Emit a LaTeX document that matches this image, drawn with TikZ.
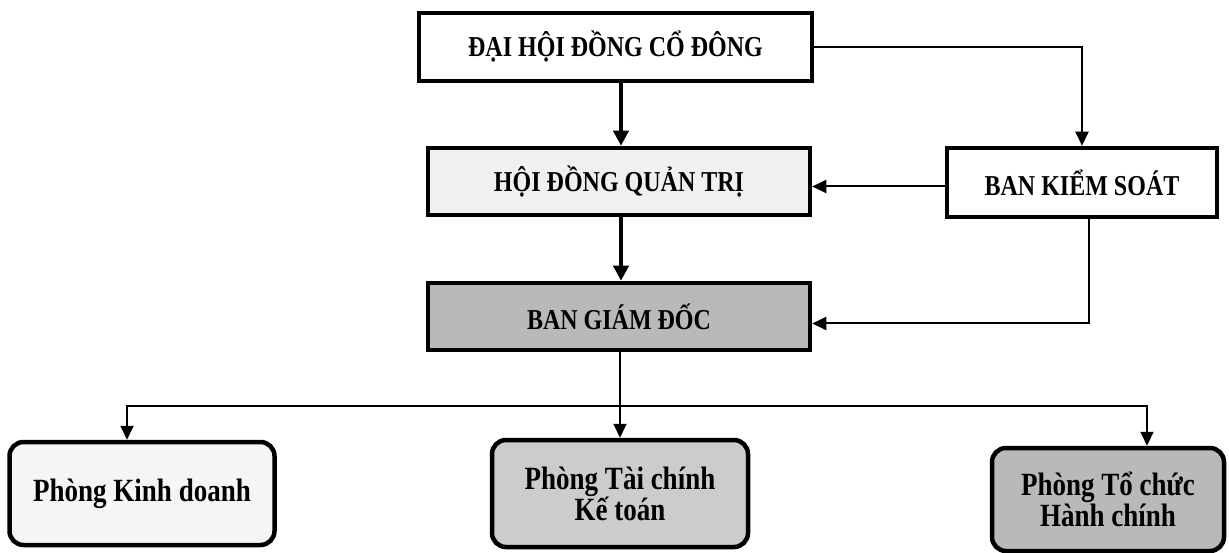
\documentclass[tikz,border=0pt]{standalone}
\usepackage{fontspec}
\usepackage{graphicx}
\setmainfont{Liberation Serif}
\usetikzlibrary{arrows.meta}
\newcommand{\vst}[1]{\scalebox{1}[1.2]{#1}}
\begin{document}
\begin{tikzpicture}[x=1pt,y=-1pt,
  box/.style={draw, line width=4.5pt, inner sep=0pt, align=center,
    font=\fontsize{24}{28}\selectfont\bfseries},
  rbox/.style={box, rounded corners=14pt,
    font=\fontsize{27}{31}\selectfont\bfseries},
  conn/.style={line width=2pt, -{Triangle[length=14pt,width=13pt]}},
  thickconn/.style={line width=4.5pt, -{Triangle[length=15pt,width=15pt]}}]
\useasboundingbox[fill=white] (0,0) rectangle (1229,553);
\node[box, minimum width=393pt, minimum height=68pt] (dh) at (615.5,47) {\vst{ĐẠI HỘI ĐỒNG CỔ ĐÔNG}};
\node[box, fill=gray!12, minimum width=382pt, minimum height=67pt] (hd) at (619,181.5) {\vst{HỘI ĐỒNG QUẢN TRỊ}};
\node[box, minimum width=270pt, minimum height=69pt] (bks) at (1082,182.5) {\vst{BAN KIỂM SOÁT}};
\node[box, fill=gray!55, minimum width=382pt, minimum height=67pt] (bgd) at (619,316.5) {\vst{BAN GIÁM ĐỐC}};
\node[rbox, fill=gray!8, minimum width=265pt, minimum height=103pt] (kd) at (142,493.5) {\vst{Phòng Kinh doanh}};
\node[rbox, fill=gray!40, minimum width=256pt, minimum height=107pt] (tc) at (620,493.5) {\vst{Phòng Tài chính}\\\vst{Kế toán}};
\node[rbox, fill=gray!55, minimum width=232pt, minimum height=103pt] (hc) at (1108,499.5) {\vst{Phòng Tổ chức}\\\vst{Hành chính}};
\coordinate (ax) at (621,0);
\coordinate (hl) at (0,406);
\draw[thickconn] (dh.south -| ax) -- (hd.north -| ax);
\draw[thickconn] (hd.south -| ax) -- (bgd.north -| ax);
\draw[conn] (dh.east) -| (bks.north);
\draw[conn] ([yshift=-4pt]bks.west) -- ([yshift=-4pt]bks.west -| hd.east);
\draw[conn] ([xshift=7pt]bks.south) |- ([yshift=-7pt]bgd.east);
\draw[conn] (bgd.south -| tc.north) -- (tc.north);
\draw[conn] (hl -| tc.north) -| ([xshift=-15pt]kd.north);
\draw[conn] (hl -| tc.north) -| ([xshift=39pt]hc.north);
\end{tikzpicture}
\end{document}
